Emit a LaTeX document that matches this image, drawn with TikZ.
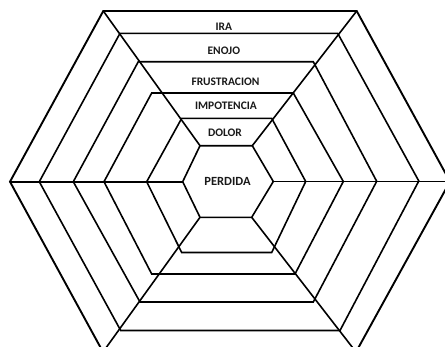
\documentclass[tikz,border=0pt]{standalone}
\usepackage{fontspec}
\setmainfont{Carlito}
\begin{document}
\begin{tikzpicture}[x=1pt,y=-1pt,
  ring/.style={line width=1.6pt, line join=miter},
  spoke/.style={line width=1.6pt},
  word/.style={font=\bfseries\fontsize{11.5}{12}\selectfont, anchor=base, inner sep=0pt, text=black!90}]
\useasboundingbox (0,0) rectangle (445,346);
\clip (0,0) rectangle (445,346);
% rings, from the outside in (a=top left, b=top right, c=right, d=bottom right, e=bottom left, f=left)
\draw[ring, line width=1.9pt] (103.3,11) coordinate (a1) -- (356.7,11) coordinate (b1) -- (450,181.5) coordinate (c1)
  -- (356,352) coordinate (d1) -- (103,352) coordinate (e1) -- (10,181.7) coordinate (f1) -- cycle;
\draw[ring] (120,33.3) coordinate (a2) -- (337.7,33.3) coordinate (b2) -- (418.8,181) coordinate (c2)
  -- (340,330.5) coordinate (d2) -- (120.7,330.5) coordinate (e2) -- (39.3,181.7) coordinate (f2) -- cycle;
\draw[ring] (138.3,61.7) coordinate (a3) -- (313.3,61.7) coordinate (b3) -- (376.7,181.3) coordinate (c3)
  -- (313.3,302) coordinate (d3) -- (140,302) coordinate (e3) -- (73.3,181.7) coordinate (f3) -- cycle;
\draw[ring] (151.7,93) coordinate (a4) -- (293.3,93) coordinate (b4) -- (343.3,181.5) coordinate (c4)
  -- (295,274) coordinate (d4) -- (151.7,274) coordinate (e4) -- (104,181.7) coordinate (f4) -- cycle;
\draw[ring] (181.7,118.3) coordinate (a5) -- (271.7,118.3) coordinate (b5) -- (305.7,181.5) coordinate (c5)
  -- (271.7,252.5) coordinate (d5) -- (181.7,252.5) coordinate (e5) -- (146.7,181.7) coordinate (f5) -- cycle;
\draw[ring] (200,145.7) coordinate (a6) -- (252.3,145.7) coordinate (b6) -- (273.3,181.5) coordinate (c6)
  -- (251.7,217.3) coordinate (d6) -- (200,217.3) coordinate (e6) -- (182.7,181.7) coordinate (f6) -- cycle;
% spokes
\draw[spoke] (a1) -- (a6);
\draw[spoke] (b1) -- (b6);
\draw[spoke] (c6) -- (c1);
\draw[spoke] (d1) -- (d6);
\draw[spoke] (e1) -- (e6);
\draw[spoke] (f1) -- (f6);
% words
\node[word] (ira) at (223.8,30) {IRA};
\node[word] (enojo) at (223.8,54) {ENOJO};
\node[word] (frustracion) at (225.5,85) {FRUSTRACION};
\node[word] (impotencia) at (226,109.3) {IMPOTENCIA};
\node[word] (dolor) at (225,136) {DOLOR};
\node[word, font=\bfseries\fontsize{12.5}{13}\selectfont] (perdida) at (227.5,185.7) {PERDIDA};
\end{tikzpicture}
\end{document}
